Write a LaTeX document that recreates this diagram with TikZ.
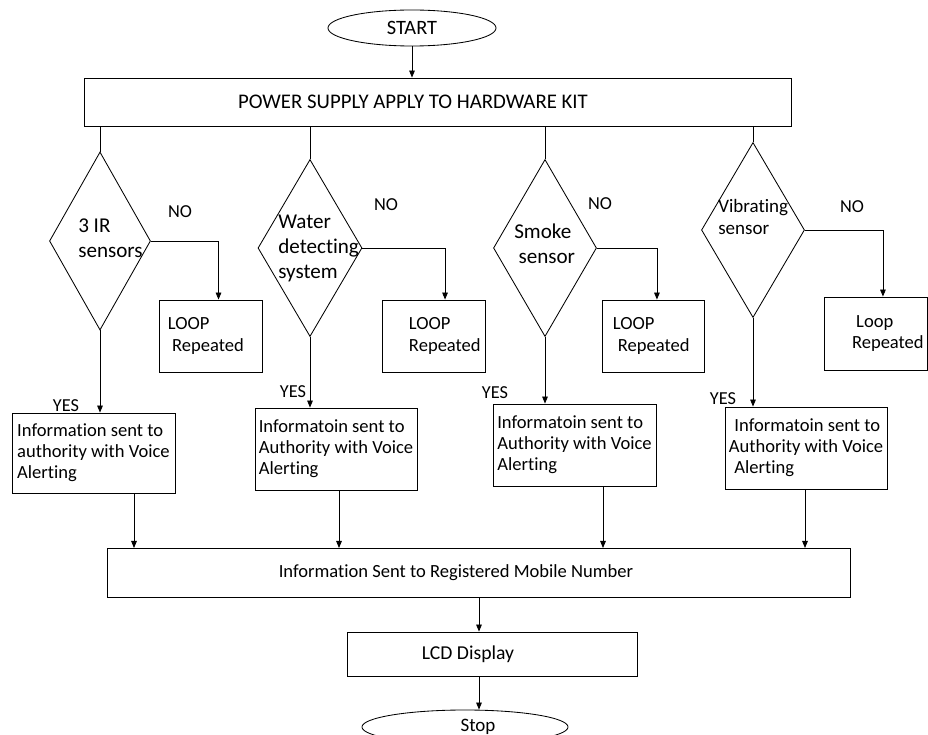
\documentclass[tikz,border=0pt]{standalone}
\usepackage{fontspec}
\setmainfont{Carlito}[Ligatures=NoCommon]
\usetikzlibrary{arrows.meta, shapes.geometric}
\hyphenpenalty=10000

\begin{document}
\begin{tikzpicture}[
  x=0.025cm, y=-0.025cm,
  line/.style={line width=0.6pt},
  arrow/.style={line width=0.6pt, -{Triangle[length=5pt, width=4pt]}},
  box/.style={draw, rectangle, line width=0.6pt, inner sep=0pt, align=left, font=\fontsize{13.2}{15}\selectfont},
  term/.style={draw, ellipse, line width=0.6pt, inner sep=0pt, font=\fontsize{14.5}{16}\selectfont},
  decision/.style={draw, diamond, line width=0.6pt, inner sep=0pt},
  dtext/.style={anchor=west, align=left, inner sep=0pt, font=\fontsize{15}{17.8}\selectfont},
  tag/.style={inner sep=0pt, font=\fontsize{13}{15}\selectfont},
]
\useasboundingbox (0,0) rectangle (928,735);

% ===== Top: start and power supply =====
\node[term, minimum width=4.2cm, minimum height=0.9cm] (start) at (412,28) {START};
\node[box, font=\fontsize{14.8}{16}\selectfont, minimum width=17.65cm, minimum height=1.2cm] (power) at (438,102)
  {POWER SUPPLY APPLY TO HARDWARE KIT\hspace*{1.25cm}};
\draw[arrow] (start.south) -- (start.south |- power.north);

% ===== Sensor decisions =====
\node[decision, minimum width=2.525cm, minimum height=4.45cm] (d1) at (100,241) {};
\node[decision, minimum width=2.6cm, minimum height=4.425cm] (d2) at (310,248) {};
\node[decision, minimum width=2.575cm, minimum height=4.425cm] (d3) at (545,248) {};
\node[decision, minimum width=2.575cm, minimum height=4.375cm] (d4) at (753,230) {};

\node[dtext] (d1txt) at (78,238) {3 IR\\sensors};
\node[dtext] (d2txt) at (278,248) {Water\\detecting\\system};
\node[dtext] (d3txt) at (514,244) {Smoke\\\hspace*{3pt}sensor};
\node[dtext, font=\fontsize{13.5}{15}\selectfont] (d4txt) at (718,217) {Vibrating\\sensor};

\draw[line] (power.south -| d1.north) -- (d1.north);
\draw[line] (power.south -| d2.north) -- (d2.north);
\draw[line] (power.south -| d3.north) -- (d3.north);
\draw[line] (power.south -| d4.north) -- (d4.north);

% ===== NO branches =====
\node[box, minimum width=2.575cm, minimum height=1.8cm, text width=2.125cm] (loop1) at (210.5,336)
  {LOOP\\\hspace*{3pt}Repeated};
\node[box, minimum width=2.575cm, minimum height=1.8cm, text width=1.225cm] (loop2) at (433.5,336)
  {LOOP\\Repeated};
\node[box, minimum width=2.55cm, minimum height=1.8cm, text width=2cm] (loop3) at (653,336)
  {LOOP\\\hspace*{3.5pt}Repeated};
\node[box, minimum width=2.575cm, minimum height=1.825cm, text width=1.175cm] (loop4) at (875.5,333.5)
  {\hspace*{3pt}Loop\\Repeated};

\node[tag] (no1) at (180,212) {NO};
\node[tag] (no2) at (386,205) {NO};
\node[tag] (no3) at (600,204) {NO};
\node[tag] (no4) at (852,207) {NO};

\draw[arrow] (d1.east) -| ([xshift=5.7pt]loop1.north);
\draw[arrow] (d2.east) -| ([xshift=8.2pt]loop2.north);
\draw[arrow] (d3.east) -| ([xshift=2.8pt]loop3.north);
\draw[arrow] (d4.east) -| ([xshift=5.3pt]loop4.north);

% ===== YES branches =====
\node[box, minimum width=4.075cm, minimum height=2cm] (info1) at (93.5,453)
  {Information sent to\\authority with Voice\\Alerting};
\node[box, minimum width=4.05cm, minimum height=2.05cm] (info2) at (336,449)
  {Informatoin sent to\\Authority with Voice\\Alerting};
\node[box, minimum width=4.075cm, minimum height=2.05cm] (info3) at (574.5,445)
  {Informatoin sent to\\Authority with Voice\\Alerting};
\node[box, minimum width=4.05cm, minimum height=2.05cm] (info4) at (806,448)
  {\hspace*{4pt}Informatoin sent to\\Authority with Voice\\\hspace*{4pt}Alerting};

\node[tag] (yes1) at (66,406) {YES};
\node[tag] (yes2) at (293,392) {YES};
\node[tag] (yes3) at (495,393) {YES};
\node[tag] (yes4) at (723,399) {YES};

\draw[arrow] (d1.south) -- (d1.south |- info1.north);
\draw[arrow] (d2.south) -- (d2.south |- info2.north);
\draw[arrow] (d3.south) -- (d3.south |- info3.north);
\draw[arrow] (d4.south) -- (d4.south |- info4.north);

% ===== Bottom: mobile, LCD, stop =====
\node[box, minimum width=18.55cm, minimum height=1.225cm] (mobile) at (479,572.5)
  {Information Sent to Registered Mobile Number\hspace*{1.15cm}};
\node[box, font=\fontsize{14}{16}\selectfont, minimum width=7.25cm, minimum height=1.1cm] (lcd) at (492,654)
  {LCD Display\hspace*{1.2cm}};
\node[term, font=\fontsize{13.5}{15}\selectfont, minimum width=5.15cm, minimum height=0.85cm] (stop) at (465,727)
  {\hspace*{0.65cm}Stop};

\coordinate (drop1) at (134,548);
\coordinate (drop2) at (339,548);
\coordinate (drop3) at (603,548);
\coordinate (drop4) at (805,548);
\draw[arrow] (info1.south -| drop1) -- (drop1);
\draw[arrow] (info2.south -| drop2) -- (drop2);
\draw[arrow] (info3.south -| drop3) -- (drop3);
\draw[arrow] (info4.south -| drop4) -- (drop4);

\draw[arrow] (mobile.south) -- (mobile.south |- lcd.north);
\draw[arrow] (lcd.south -| mobile.south) -- (stop.north -| mobile.south);

\end{tikzpicture}
\end{document}
